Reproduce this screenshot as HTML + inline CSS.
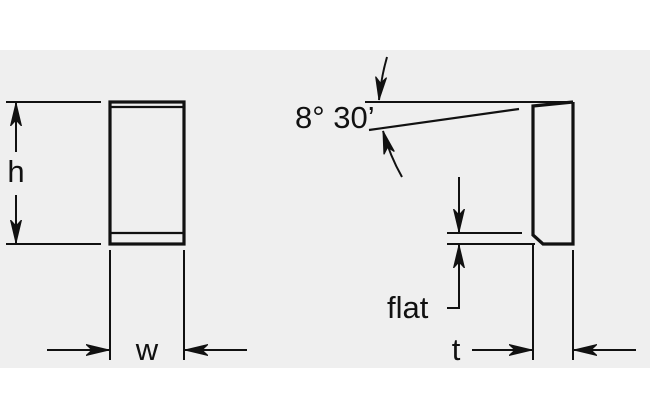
<!DOCTYPE html>
<html><head><style>
html,body{margin:0;padding:0;background:#fff;}
svg{display:block;}
text{font-family:"Liberation Sans",Arial,sans-serif;fill:#111;}
</style></head><body>
<svg width="650" height="418" viewBox="0 0 650 418">
<defs>
<marker id="a" viewBox="0 0 24 12" refX="23" refY="6" markerWidth="24" markerHeight="12" markerUnits="userSpaceOnUse" orient="auto"><path d="M0,0.5 L23,6 L0,11.5 L6,6 Z" fill="#111" stroke="#111" stroke-width="1"/></marker>
</defs>
<rect x="0" y="50" width="650" height="318" fill="#efefef"/>
<g stroke="#111" fill="none">
<rect x="110" y="102" width="74" height="142" stroke-width="3.2"/>
<line x1="110" y1="107" x2="184" y2="107" stroke-width="2.2"/>
<line x1="110" y1="233" x2="184" y2="233" stroke-width="2.2"/>
<line x1="6" y1="102" x2="101" y2="102" stroke-width="2"/>
<line x1="6" y1="244" x2="101" y2="244" stroke-width="2"/>
<line x1="16" y1="152" x2="16" y2="103" stroke-width="2" marker-end="url(#a)"/>
<line x1="16" y1="195" x2="16" y2="243" stroke-width="2" marker-end="url(#a)"/>
<line x1="110" y1="250" x2="110" y2="360" stroke-width="2"/>
<line x1="184" y1="250" x2="184" y2="360" stroke-width="2"/>
<line x1="47" y1="350" x2="109" y2="350" stroke-width="2" marker-end="url(#a)"/>
<line x1="247" y1="350" x2="185" y2="350" stroke-width="2" marker-end="url(#a)"/>
<line x1="365" y1="102" x2="573" y2="102" stroke-width="2"/>
<path d="M573,102 L573,244 L543,244 L533,235 L533,106 L573,102" stroke-width="3.2"/>
<line x1="369" y1="130" x2="519" y2="109" stroke-width="2.2"/>
<path d="M387,57 Q381,78 379,100" stroke-width="2" marker-end="url(#a)"/>
<path d="M402,177 Q390,156 383,131" stroke-width="2" marker-end="url(#a)"/>
<line x1="447" y1="233" x2="522" y2="233" stroke-width="2"/>
<line x1="447" y1="244" x2="535" y2="244" stroke-width="2"/>
<line x1="459" y1="177" x2="459" y2="232" stroke-width="2" marker-end="url(#a)"/>
<polyline points="447,308 459,308 459,245" stroke-width="2" marker-end="url(#a)"/>
<line x1="533" y1="244" x2="533" y2="360" stroke-width="2"/>
<line x1="573" y1="250" x2="573" y2="360" stroke-width="2"/>
<line x1="472" y1="350" x2="532" y2="350" stroke-width="2" marker-end="url(#a)"/>
<line x1="636" y1="350" x2="574" y2="350" stroke-width="2" marker-end="url(#a)"/>
</g>
<text x="16" y="182" font-size="31" text-anchor="middle">h</text>
<text x="147" y="360" font-size="31" text-anchor="middle">w</text>
<text x="295" y="128" font-size="31">8° 30’</text>
<text x="387" y="318" font-size="31">flat</text>
<text x="456" y="360" font-size="31" text-anchor="middle">t</text>
</svg>
</body></html>
